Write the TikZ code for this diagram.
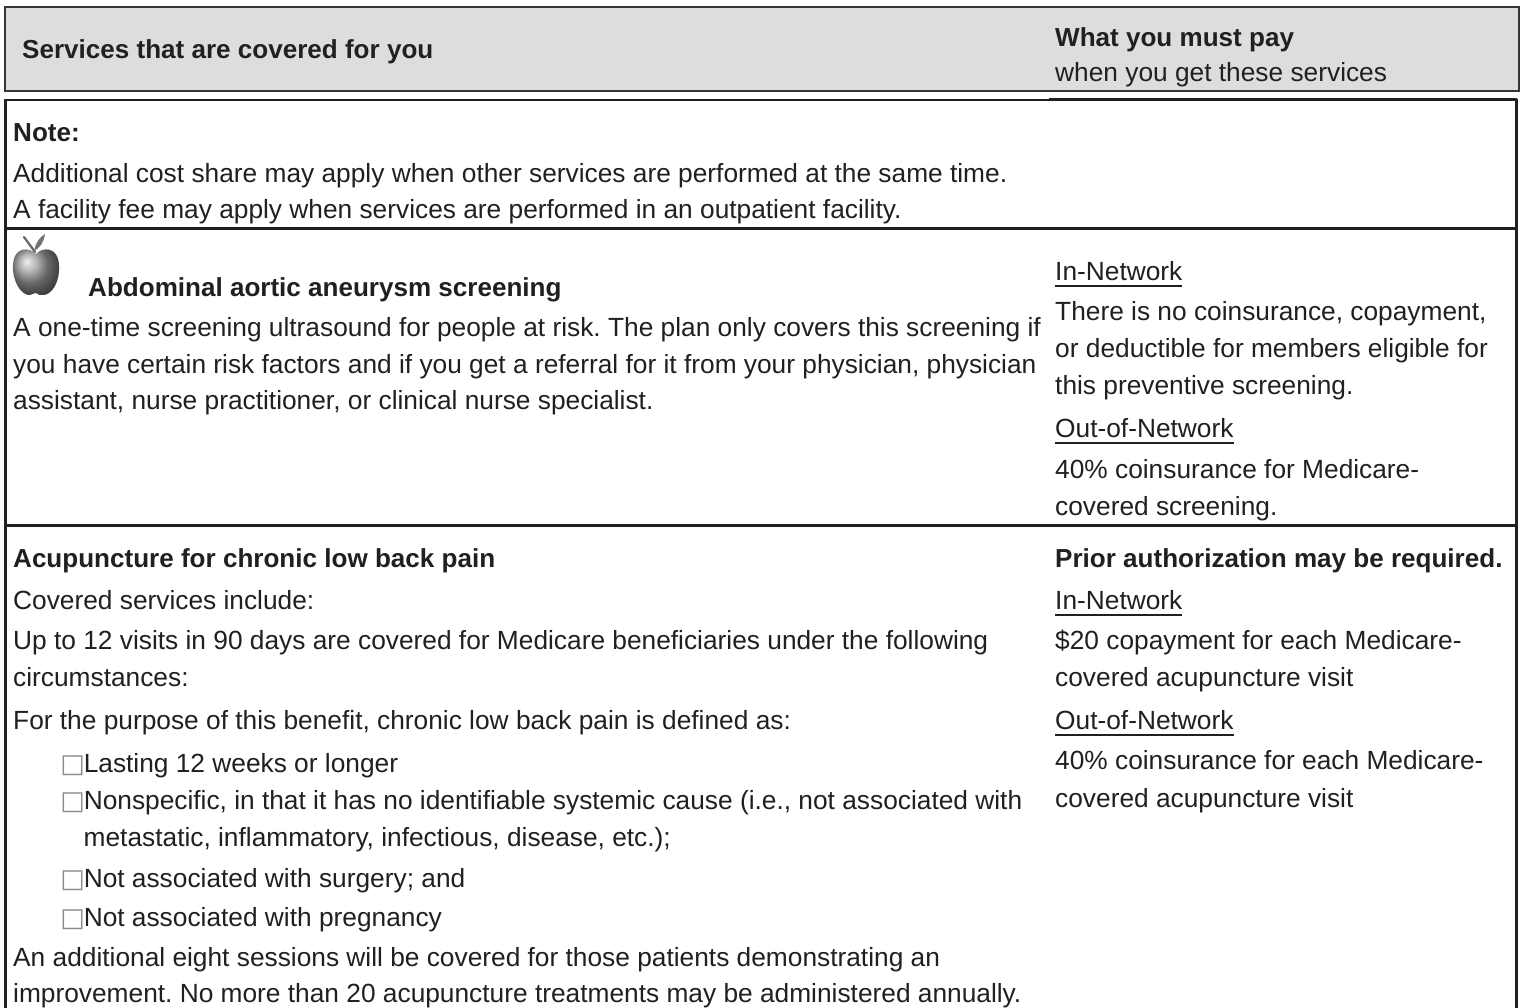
\documentclass[tikz,border=0pt]{standalone}
\usepackage{fontspec}
\setmainfont{Liberation Sans}
\newfontfamily\dejavu{DejaVu Sans}
\definecolor{ink}{HTML}{231F20}
\definecolor{hdrgray}{HTML}{DCDDDF}
\definecolor{boxgray}{HTML}{8C8C8C}
\newcommand\bx{{\dejavu\fontsize{26}{26}\selectfont\color{boxgray}□}\hspace{-1.2pt}}
\newcommand\ulin[1]{\setbox0\hbox{#1}\rlap{\rule[-6.9pt]{\wd0}{1.8pt}}\box0}
\frenchspacing
\begin{document}
\begin{tikzpicture}[x=1pt,y=-1pt,
  txt/.style={anchor=west, inner sep=0pt, text height=24pt, text depth=6pt,
    font=\fontsize{26.3}{30}\selectfont\frenchspacing, text=ink},
  btxt/.style={txt, font=\fontsize{26.05}{30}\selectfont\bfseries},
  frame/.style={draw=ink, line width=3pt}]
\useasboundingbox[fill=white] (0,0) rectangle (1522,1008);
% header
\draw[fill=hdrgray, draw=ink!90, line width=2.2pt] (5,7) rectangle (1519,91);
\node[btxt] (h1) at (22,50) {Services that are covered for you};
\node[btxt] (h2) at (1055,38) {What you must pay};
\node[txt]  (h3) at (1055,73) {when you get these services};
% table frame
\draw[ink, line width=1.5pt] (5,100) -- (1049,100);
\draw[ink, line width=3pt] (1049,100) -- (1517,100);
\draw[frame] (5,99) -- (5,1010);
\draw[frame] (1516,99) -- (1516,1010);
\draw[frame] (4,228.5) -- (1517,228.5);
\draw[frame] (4,525) -- (1517,525);
% note row
\node[btxt] (n1) at (13,133) {Note:};
\node[txt] (n2) at (13,174) {Additional cost share may apply when other services are performed at the same time.};
\node[txt] (n3) at (13,210) {A facility fee may apply when services are performed in an outpatient facility.};
% apple icon
\shade[ball color=black!40] (36,254) .. controls (30,247) and (14,246) .. (13,265)
  .. controls (12,282) and (22,296) .. (30,295) .. controls (33,294) and (35,293) .. (36,293)
  .. controls (38,294) and (40,296) .. (43,295) .. controls (52,295) and (60,282) .. (59,265)
  .. controls (58,246) and (42,247) .. (36,254) -- cycle;
\draw[black!60, line width=2.2pt, line cap=round] (35,252) -- (24,237);
\fill[black!55] (34,251) .. controls (36,242) and (40,237) .. (45,234)
  .. controls (44,242) and (40,248) .. (34,251) -- cycle;
% abdominal row
\node[btxt] (a1) at (88,287) {Abdominal aortic aneurysm screening};
\node[txt] (a2) at (13,327) {A one-time screening ultrasound for people at risk. The plan only covers this screening if};
\node[txt] (a3) at (13,364) {you have certain risk factors and if you get a referral for it from your physician, physician};
\node[txt] (a4) at (13,400) {assistant, nurse practitioner, or clinical nurse specialist.};
\node[txt] (r1) at (1055,271) {\ulin{In-Network}};
\node[txt] (r2) at (1055,311) {There is no coinsurance, copayment,};
\node[txt] (r3) at (1055,348) {or deductible for members eligible for};
\node[txt] (r4) at (1055,385) {this preventive screening.};
\node[txt] (r5) at (1055,428) {\ulin{Out-of-Network}};
\node[txt] (r6) at (1055,469) {40\% coinsurance for Medicare-};
\node[txt] (r7) at (1055,506) {covered screening.};
% acupuncture row
\node[btxt] (b1) at (13,558) {Acupuncture for chronic low back pain};
\node[txt] (b2) at (13,600) {Covered services include:};
\node[txt] (b3) at (13,640) {Up to 12 visits in 90 days are covered for Medicare beneficiaries under the following};
\node[txt] (b4) at (13,677) {circumstances:};
\node[txt] (b5) at (13,720) {For the purpose of this benefit, chronic low back pain is defined as:};
\node[txt] (b6) at (60.2,763) {\bx Lasting 12 weeks or longer};
\node[txt] (b7) at (60.2,800) {\bx Nonspecific, in that it has no identifiable systemic cause (i.e., not associated with};
\node[txt] (b8) at (83.5,837) {metastatic, inflammatory, infectious, disease, etc.);};
\node[txt] (b9) at (60.2,878) {\bx Not associated with surgery; and};
\node[txt] (b10) at (60.2,917) {\bx Not associated with pregnancy};
\node[txt] (b11) at (13,957) {An additional eight sessions will be covered for those patients demonstrating an};
\node[txt] (b12) at (13,993) {improvement. No more than 20 acupuncture treatments may be administered annually.};
\node[btxt] (c1) at (1055,558) {Prior authorization may be required.};
\node[txt] (c2) at (1055,600) {\ulin{In-Network}};
\node[txt] (c3) at (1055,640) {\$20 copayment for each Medicare-};
\node[txt] (c4) at (1055,677) {covered acupuncture visit};
\node[txt] (c5) at (1055,720) {\ulin{Out-of-Network}};
\node[txt] (c6) at (1055,760) {40\% coinsurance for each Medicare-};
\node[txt] (c7) at (1055,798) {covered acupuncture visit};
\end{tikzpicture}
\end{document}
